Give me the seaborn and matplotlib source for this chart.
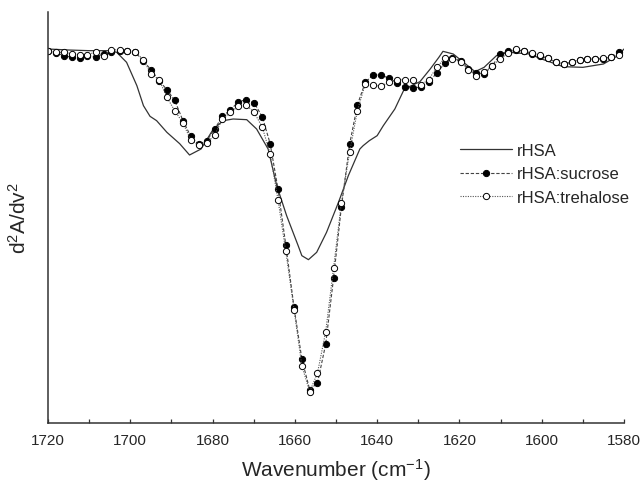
import matplotlib
matplotlib.use("Agg")
import pandas as pd
from matplotlib import pyplot as plt
from matplotlib.ticker import MultipleLocator
import seaborn as sns

# wavenumber grid of the sucrose / trehalose spectra (cm-1)
wn = [1720.0, 1718.1, 1716.1, 1714.2, 1712.3, 1710.4, 1708.4, 1706.5, 1704.6, 1702.6,
      1700.7, 1698.8, 1696.9, 1694.9, 1693.0, 1691.1, 1689.2, 1687.2, 1685.3, 1683.4,
      1681.4, 1679.5, 1677.6, 1675.7, 1673.7, 1671.8, 1669.9, 1667.9, 1666.0, 1664.1,
      1662.2, 1660.2, 1658.3, 1656.4, 1654.5, 1652.5, 1650.6, 1648.7, 1646.7, 1644.8,
      1642.9, 1641.0, 1639.0, 1637.1, 1635.2, 1633.2, 1631.3, 1629.4, 1627.5, 1625.5,
      1623.6, 1621.7, 1619.7, 1617.8, 1615.9, 1614.0, 1612.0, 1610.1, 1608.2, 1606.2,
      1604.3, 1602.4, 1600.5, 1598.5, 1596.6, 1594.7, 1592.7, 1590.8, 1588.9, 1587.0,
      1585.0, 1583.1, 1581.2]

sucrose = [0.001, -0.006, -0.014, -0.019, -0.020, -0.014, -0.019, -0.009, -0.004, 0.001,
           0.001, -0.004, -0.029, -0.057, -0.089, -0.116, -0.148, -0.209, -0.256, -0.280,
           -0.269, -0.234, -0.196, -0.177, -0.152, -0.146, -0.155, -0.198, -0.278, -0.414,
           -0.582, -0.769, -0.924, -1.016, -0.996, -0.879, -0.682, -0.469, -0.280, -0.162,
           -0.094, -0.072, -0.072, -0.082, -0.096, -0.109, -0.111, -0.108, -0.094, -0.066,
           -0.037, -0.022, -0.029, -0.054, -0.066, -0.069, -0.044, -0.009, -0.001, 0.004,
           -0.001, -0.009, -0.014, -0.022, -0.034, -0.039, -0.034, -0.027, -0.024, -0.024,
           -0.024, -0.017, -0.004]

trehalose = [0.001, -0.004, -0.004, -0.009, -0.011, -0.012, -0.002, -0.014, 0.003, 0.004,
             -0.001, -0.002, -0.026, -0.069, -0.086, -0.139, -0.179, -0.216, -0.267, -0.282,
             -0.276, -0.252, -0.204, -0.184, -0.166, -0.162, -0.184, -0.229, -0.309, -0.446,
             -0.601, -0.776, -0.944, -1.022, -0.966, -0.842, -0.652, -0.456, -0.304, -0.179,
             -0.099, -0.102, -0.106, -0.092, -0.086, -0.086, -0.086, -0.102, -0.086, -0.049,
             -0.022, -0.024, -0.032, -0.056, -0.074, -0.062, -0.044, -0.024, -0.006, 0.006,
             -0.001, -0.006, -0.012, -0.022, -0.032, -0.039, -0.034, -0.026, -0.024, -0.024,
             -0.021, -0.017, -0.012]

# rHSA alone (solid line)
rhsa_wn = [1720.0, 1715.0, 1710.0, 1705.0, 1703.3, 1700.9, 1698.4, 1696.8, 1695.2, 1693.6,
           1691.1, 1688.0, 1685.6, 1682.8, 1679.8, 1677.4, 1675.0, 1671.7, 1669.3, 1666.5,
           1664.4, 1662.0, 1659.2, 1658.3, 1656.7, 1654.7, 1652.3, 1649.4, 1647.0, 1644.2,
           1643.4, 1641.9, 1640.0, 1638.5, 1635.7, 1633.4, 1629.6, 1627.1, 1625.0, 1624.0,
           1621.5, 1618.5, 1616.2, 1614.0, 1611.0, 1608.0, 1603.0, 1600.0, 1594.8, 1590.0,
           1585.0, 1581.5, 1580.0]
rhsa = [0.006, 0.003, 0.001, 0.001, -0.004, -0.034, -0.104, -0.164, -0.196, -0.209,
        -0.244, -0.278, -0.312, -0.294, -0.234, -0.209, -0.204, -0.206, -0.234, -0.294,
        -0.404, -0.494, -0.584, -0.614, -0.626, -0.604, -0.544, -0.454, -0.374, -0.294,
        -0.284, -0.269, -0.254, -0.224, -0.174, -0.114, -0.092, -0.054, -0.019, -0.001,
        -0.009, -0.039, -0.062, -0.049, -0.014, -0.004, -0.009, -0.024, -0.047, -0.049,
        -0.039, -0.014, 0.006]

df = pd.DataFrame({"wn": wn, "sucrose": sucrose, "trehalose": trehalose})
df_rhsa = pd.DataFrame({"wn": rhsa_wn, "rhsa": rhsa})

sns.set_style("ticks")
plt.rcParams["font.family"] = ["Liberation Sans", "DejaVu Sans"]
plt.rcParams["mathtext.fontset"] = "custom"
plt.rcParams["mathtext.rm"] = "Liberation Sans"
plt.rcParams["mathtext.it"] = "Liberation Sans"
plt.rcParams["mathtext.default"] = "regular"

fig = plt.figure(figsize=(6.44, 4.89), dpi=100)
ax = fig.add_axes([48 / 644, 1 - 424 / 489, 576 / 644, 411 / 489])

sns.lineplot(data=df_rhsa, x="wn", y="rhsa", ax=ax, color="#333333", lw=0.9,
             label="rHSA", sort=False)
sns.lineplot(data=df, x="wn", y="sucrose", ax=ax, color="#444444", lw=0.8,
             linestyle=(0, (3, 1.6)), marker="o", markersize=4.5,
             markerfacecolor="black", markeredgecolor="black", markeredgewidth=0.7,
             label="rHSA:sucrose", sort=False)
sns.lineplot(data=df, x="wn", y="trehalose", ax=ax, color="#555555", lw=0.8,
             linestyle=(0, (1, 1.2)), marker="o", markersize=4.5,
             markerfacecolor="white", markeredgecolor="black", markeredgewidth=0.7,
             label="rHSA:trehalose", sort=False)

ax.set_xlim(1720, 1580)
ax.set_ylim(-1.116, 0.117)
ax.xaxis.set_major_locator(MultipleLocator(20))
ax.xaxis.set_minor_locator(MultipleLocator(10))
ax.tick_params(axis="x", which="both", direction="in", length=3.2, width=0.9,
               color="#333333", labelsize=11, pad=7)
ax.set_yticks([])
sns.despine(ax=ax)
for s in ["left", "bottom"]:
    ax.spines[s].set_color("#333333")
    ax.spines[s].set_linewidth(1.1)

ax.set_xlabel("Wavenumber (cm$^{-1}$)", fontsize=15, labelpad=7)
ax.set_ylabel("d$^2$A/dv$^2$", fontsize=15, labelpad=13)

ax.legend(frameon=False, loc="center left", bbox_to_anchor=(460 / 644, 1 - 175 / 489),
          bbox_transform=fig.transFigure, fontsize=12, handlelength=3.1,
          handletextpad=0.3, labelspacing=0.5, borderpad=0, borderaxespad=0)

fig.savefig("out.png", dpi=100)
